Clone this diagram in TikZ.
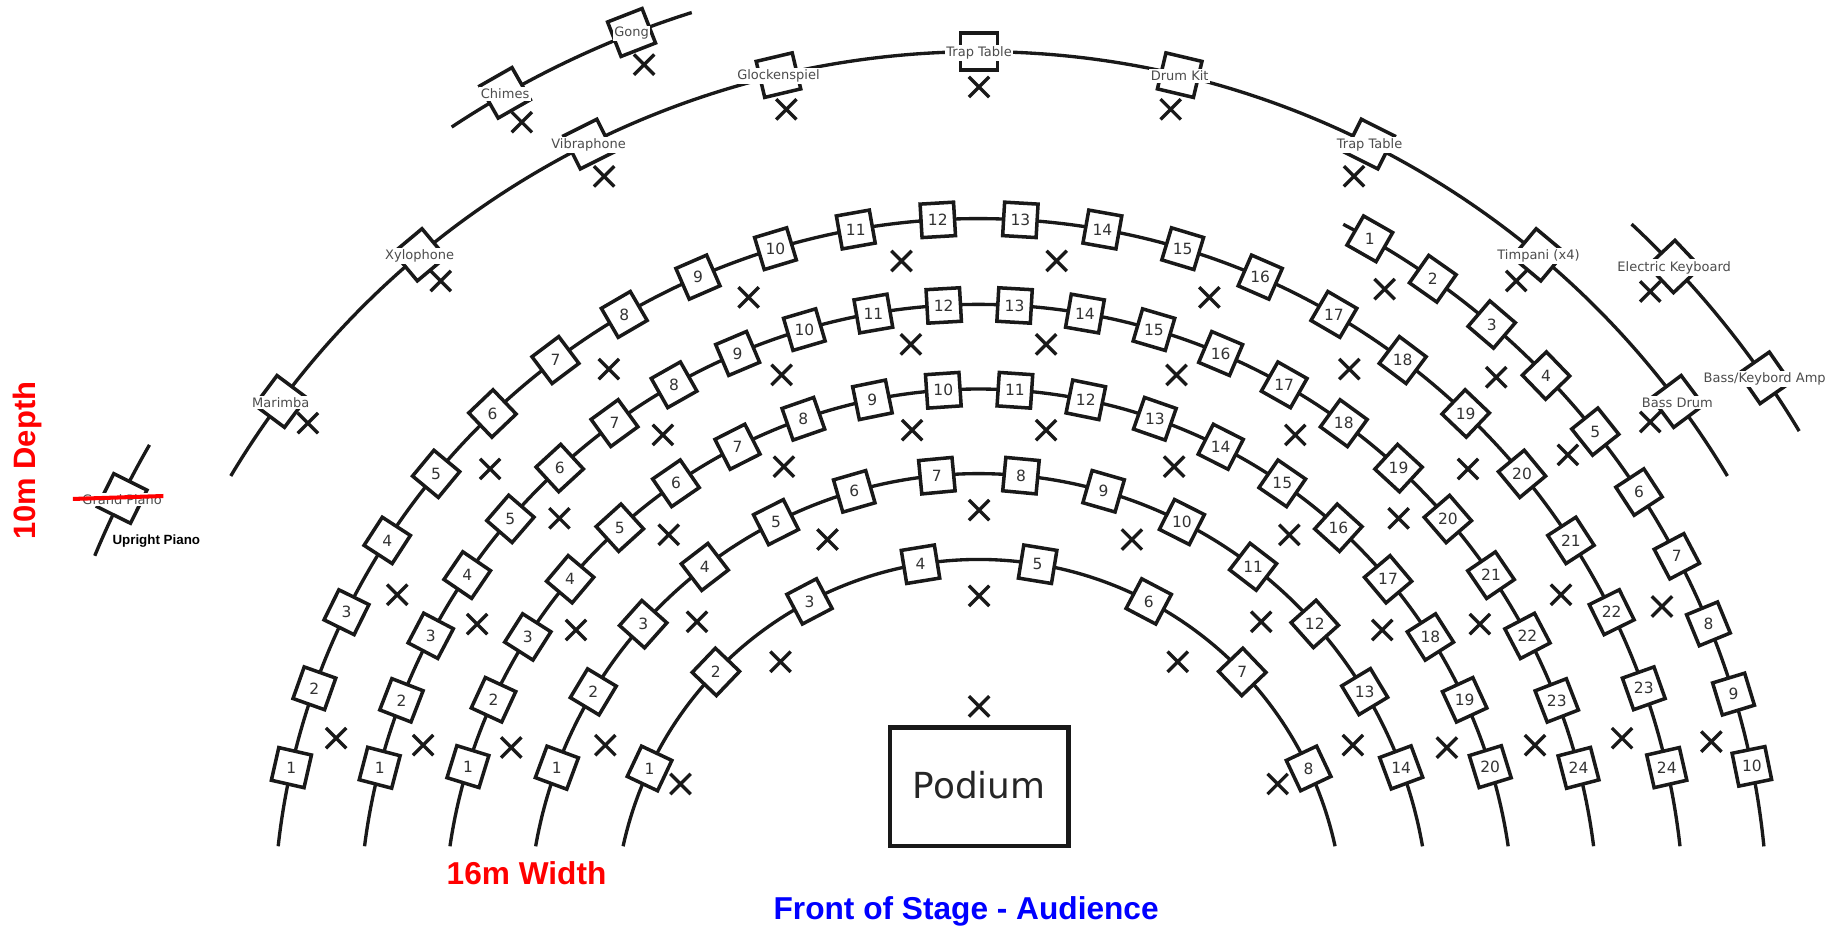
\documentclass[tikz,border=0pt]{standalone}
\usepackage{fontspec}
\setmainfont{DejaVu Sans}
\newfontfamily\titlefont{Liberation Sans}
\usetikzlibrary{positioning,shapes.misc}
\tikzset{
  arcline/.style={line width=0.95pt,black!90},
  seatbox/.style={draw=black!90,line width=1pt,fill=white,minimum size=0.335cm,inner sep=0pt},
  seatnum/.style={inner sep=0pt,text=black!80,font=\fontsize{4.4}{5}\selectfont},
  instrbox/.style={draw=black!90,line width=1pt,fill=white,minimum size=0.37cm,inner sep=0pt},
  instrlabel/.style={fill=white,inner xsep=0.4pt,inner ysep=0.5pt,yshift=-0.01cm,text=black!70,font=\fontsize{3.7}{4.4}\selectfont},
  crossmark/.style={cross out,draw=black!90,line width=0.95pt,inner sep=0pt,minimum size=0.17cm},
  redtitle/.style={text=red,font=\titlefont\bfseries\fontsize{9}{11}\selectfont},
}
% name, radius, arc start, arc end, first angle, step, seats
\newcommand{\deskrow}[7]{
  \draw[arcline] (#3:#2) arc[start angle=#3,end angle=#4,radius=#2];
  \foreach \n in {1,...,#7}{
    \pgfmathsetmacro\ang{#5-(\n-1)*#6}
    \node[seatbox,rotate=\ang] (#1box\n) at (\ang:#2) {};
    \node[seatnum] (#1num\n) at (\ang:#2) {\n};
  }
}
\begin{document}
\begin{tikzpicture}[x=0.011754cm,y=0.011754cm]
\useasboundingbox (-833,-2) rectangle (735,786);

% rows of seats
\deskrow{rowa}{310}{167.7}{12.3}{154.75}{18.5}{8}
\deskrow{rowb}{383}{170.08}{9.92}{159.7}{10.72}{14}
\deskrow{rowc}{455}{171.66}{8.34}{162.9}{7.674}{20}
\deskrow{rowd}{527}{172.8}{7.2}{165.4}{6.557}{24}
\deskrow{rowe}{600}{173.68}{6.32}{167.2}{6.713}{24}
\deskrow{rowf}{671}{62.5}{5.64}{60.3}{5.42}{10}

% percussion
\draw[arcline] (149.1:742) arc[start angle=149.1,end angle=30.9,radius=742];
\foreach \nm/\lab/\ang in {marimba/Marimba/143.2,xylo/Xylophone/129.9,vibra/Vibraphone/116.6,
    glock/Glockenspiel/103.3,trapa/Trap Table/90,drum/Drum Kit/76.7,trapb/Trap Table/63.4,
    timp/Timpani (x4)/50.1,bass/Bass Drum/36.8}{
  \node[instrbox,rotate=\ang] (\nm box) at (\ang:742) {};
  \node[instrlabel] (\nm) at (\ang:742) {\lab};
}

% outer instruments
\draw[arcline] (157.4:815) arc[start angle=157.4,end angle=150,radius=815];
\draw[arcline] (123.5:813) arc[start angle=123.5,end angle=107.5,radius=813];
\draw[arcline] (47:814) arc[start angle=47,end angle=31,radius=814];
\foreach \nm/\lab/\ang in {piano/Grand Piano/153.6,chimes/Chimes/119.7,gong/Gong/111.3,
    keyb/Electric Keyboard/43.4,amp/{Bass/Keybord Amp}/34.8}{
  \node[instrbox,rotate=\ang] (\nm box) at (\ang:814) {};
  \node[instrlabel] (\nm) at (\ang:814) {\lab};
}

\begin{scope}[shift={(-833,786)},yscale=-1]
% conductor and podium
\node[draw=black!90,line width=1.2pt,minimum width=1.787cm,minimum height=1.187cm,inner sep=0pt,
  font=\fontsize{10.2}{12}\selectfont,text=black!85] (podium) at (833,669.5) {\raisebox{0.04cm}{Podium}};

% player positions
\foreach \px/\py [count=\i] in {
  548/55,444/104,514/150,669/93,833/74,996/93,1152/150,1290/239,1404/248,1404/359,375/239,262/360,
  1178/246,1273/321,1334/387,1414/516,1456/631,
  767/222,899/222,1029/253,1148/314,1249/399,1328/506,1380/628,637/253,518/314,417/399,338/506,286/628,
  775/293,890/293,1001/319,1102/370,1190/441,1259/531,1306/634,665/319,564/370,476/441,406/531,360/634,
  776/366,890/366,999/397,1097/455,1176/536,1231/636,667/397,569/455,490/536,435/636,
  833/434,704/459,963/459,593/529,1073/529,515/634,1151/634,
  833/507,664/563,1002/563,579/667,1087/667,833/601}{
  \node[crossmark] (x\i) at (\px,\py) {};
}

% notes added on top
\coordinate (strikea) at (62,424.5);
\coordinate (strikeb) at (139,422);
\draw[red,line width=1.15pt] (strikea) -- (strikeb);
\node[font=\titlefont\bfseries\fontsize{3.8}{5}\selectfont] (upright) at (133,460.5) {Upright Piano};
\node[redtitle,rotate=90,font=\titlefont\bfseries\fontsize{8.8}{11}\selectfont] (depth) at (23,392) {10m Depth};
\node[redtitle] (width) at (448,743) {16m Width};
\node[redtitle,text=blue] (front) at (822,775) {Front of Stage - Audience};
\end{scope}
\end{tikzpicture}
\end{document}
